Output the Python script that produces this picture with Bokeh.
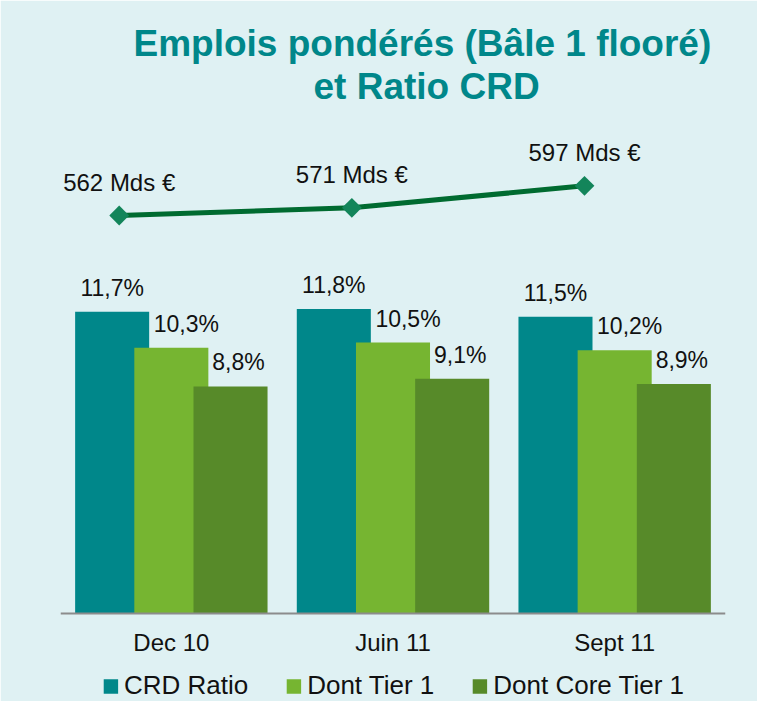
from bokeh.plotting import figure
from bokeh.models import (ColumnDataSource, Range1d, Legend, LegendItem, Title, FixedTicker)
from bokeh.transform import dodge
from bokeh.core.properties import value
from bokeh.embed import file_html
from bokeh.resources import INLINE

# ---------------- data ----------------
categories = ["Dec 10", "Juin 11", "Sept 11"]
crd_ratio = [11.7, 11.8, 11.5]
tier1 = [10.3, 10.5, 10.2]
core_tier1 = [8.8, 9.1, 8.9]
rwa_bn = [562, 571, 597]
series_names = ["CRD Ratio", "Dont Tier 1", "Dont Core Tier 1"]
title_lines = ["Emplois pondérés (Bâle 1 flooré)", "et Ratio CRD"]


def pct(v):
    return f"{v:.1f}".replace(".", ",") + "%"


idx = list(range(len(categories)))
bars = ColumnDataSource(dict(
    idx=idx,
    crd=crd_ratio, t1=tier1, ct1=core_tier1,
    crd_lbl=[pct(v) for v in crd_ratio],
    t1_lbl=[pct(v) for v in tier1],
    ct1_lbl=[pct(v) for v in core_tier1],
))
line = ColumnDataSource(dict(
    idx=idx,
    rwa=rwa_bn,
    lbl=[f"{v} Mds €" for v in rwa_bn],
))

# ---------------- style / layout ----------------
FONT = "Liberation Sans"
BG = "#DFF1F3"
TEAL = "#00878A"
LIGHT = "#76B531"
DARK = "#578A29"
LINE_C = "#006B30"
MARK_C = "#13855A"

W, H = 757, 701
BORDER_L, BORDER_R, BORDER_T = 60, 32, 106
FRAME_H = H - BORDER_T
FRAME_W = W - BORDER_L - BORDER_R
BASE_FROM_BOTTOM = 88          # px from frame bottom to bar baseline
PX_PER_PCT = 25.8

y_start = -BASE_FROM_BOTTOM / PX_PER_PCT
y_end = (FRAME_H - BASE_FROM_BOTTOM) / PX_PER_PCT

# line scale
RWA_PX = 0.8486
RWA_REF_PX_FROM_TOP = 109      # first point sits 109px below frame top
rwa_end = rwa_bn[0] + RWA_REF_PX_FROM_TOP / RWA_PX
rwa_start = rwa_end - FRAME_H / RWA_PX

STEP = 232.65
line_x_start = -58.7 / STEP
line_x_end = line_x_start + FRAME_W / STEP

p = figure(
    width=W, height=H,
    x_range=Range1d(-0.5, len(categories) - 0.5),
    y_range=Range1d(y_start, y_end),
    output_backend="svg", toolbar_location=None,
    y_axis_location=None,
    min_border_left=BORDER_L, min_border_right=BORDER_R,
    min_border_top=BORDER_T, min_border_bottom=0,
    background_fill_color=BG, border_fill_color=BG,
    outline_line_color=BG, outline_line_width=2,
)
p.extra_y_ranges = {"rwa": Range1d(rwa_start, rwa_end)}
p.extra_x_ranges = {"lx": Range1d(line_x_start, line_x_end)}
p.xgrid.visible = False
p.ygrid.visible = False

# titles (added inner first)
for txt, off in [(title_lines[1], 253), (title_lines[0], 73)]:
    p.add_layout(Title(text=txt, align="left", offset=off, text_font=FONT,
                       text_font_size="37px", text_font_style="bold",
                       text_color=TEAL, standoff=0), "above")

# bars
BW = 0.334
OFF = 0.267
r1 = p.vbar(x=dodge("idx", -OFF), top="crd", width=BW, source=bars,
            fill_color=TEAL, line_color=None)
r2 = p.vbar(x=dodge("idx", 0), top="t1", width=BW, source=bars,
            fill_color=LIGHT, line_color=None)
r3 = p.vbar(x=dodge("idx", OFF), top="ct1", width=BW, source=bars,
            fill_color=DARK, line_color=None)

lbl_kw = dict(source=bars, text_align="center", text_baseline="middle", y_offset=-24,
              text_font=value(FONT), text_font_size="23px", text_color="#111111")
p.text(x=dodge("idx", -OFF), y="crd", text="crd_lbl", **lbl_kw)
p.text(x=dodge("idx", 0), y="t1", text="t1_lbl", x_offset=15, **lbl_kw)
p.text(x=dodge("idx", OFF), y="ct1", text="ct1_lbl", x_offset=8, **lbl_kw)

# line
p.line(x="idx", y="rwa", source=line, x_range_name="lx", y_range_name="rwa",
       line_color=LINE_C, line_width=5)
p.scatter(x="idx", y="rwa", source=line, x_range_name="lx", y_range_name="rwa",
          marker="square", angle=0.785398, size=14, fill_color=MARK_C, line_color=None)
p.text(x="idx", y="rwa", text="lbl", source=line, x_range_name="lx", y_range_name="rwa",
       text_align="center", text_baseline="middle", y_offset=-33,
       text_font=value(FONT), text_font_size="24px", text_color="#111111")

# axis at the baseline, labelled with the categories
ax = p.xaxis[0]
ax.ticker = FixedTicker(ticks=idx)
ax.major_label_overrides = {i: c for i, c in zip(idx, categories)}
ax.fixed_location = 0
ax.axis_line_color = "#8C8C8C"
ax.axis_line_width = 2
ax.major_tick_line_color = None
ax.minor_tick_line_color = None
ax.major_tick_out = 0
ax.major_tick_in = 0
ax.major_label_standoff = 15
ax.major_label_text_font = FONT
ax.major_label_text_font_size = "24px"
ax.major_label_text_color = "#111111"

# legend
legend = Legend(items=[LegendItem(label=series_names[0], renderers=[r1]),
                       LegendItem(label=series_names[1], renderers=[r2]),
                       LegendItem(label=series_names[2], renderers=[r3])],
                location="bottom_center", orientation="horizontal",
                glyph_width=18, glyph_height=18, label_standoff=5, spacing=36,
                label_text_font=FONT, label_text_font_size="26px", label_text_color="#111111",
                background_fill_alpha=0, border_line_color=None, margin=0, padding=0)
p.add_layout(legend)

open("out.html", "w").write(file_html(p, INLINE))
